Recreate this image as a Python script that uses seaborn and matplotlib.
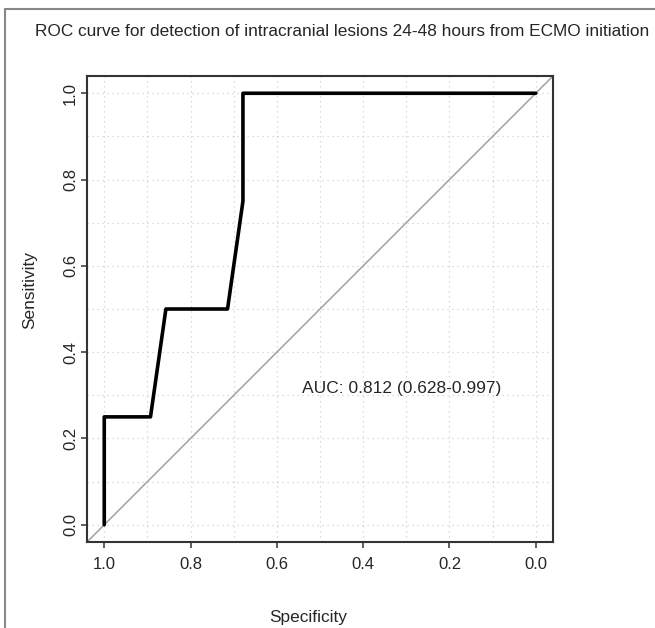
import numpy as np
import pandas as pd
import matplotlib
matplotlib.use("Agg")
import matplotlib.pyplot as plt
import seaborn as sns
from matplotlib.lines import Line2D

# ROC points (specificity, sensitivity)
specificity = [1.0, 1.0, 25/28, 24/28, 20/28, 19/28, 19/28, 0.0]
sensitivity = [0.0, 0.25, 0.25, 0.5, 0.5, 0.75, 1.0, 1.0]
tick_values = [1.0, 0.8, 0.6, 0.4, 0.2, 0.0]
grid_values = [i / 10 for i in range(11)]
auc_label = "AUC: 0.812 (0.628-0.997)"
title = "ROC curve for detection of intracranial lesions 24-48 hours from ECMO initiation"

sns.set_style("white")
plt.rcParams['font.family'] = ['Liberation Sans', 'DejaVu Sans']

roc = pd.DataFrame({'spec': specificity, 'sens': sensitivity})

fig = plt.figure(figsize=(6.55, 6.28), dpi=100)
ax = fig.add_axes([87/655, 1 - 542/628, (553-87)/655, (542-76)/628])

# dotted grid every 0.1
for g in grid_values:
    ax.axhline(g, color='#d0d0d0', lw=0.9, ls=(0, (1, 3)), zorder=0)
    ax.axvline(g, color='#d0d0d0', lw=0.9, ls=(0, (1, 3)), zorder=0)

# chance diagonal (sens = 1 - spec across the whole panel)
diag = pd.DataFrame({'spec': [1.04, -0.04], 'sens': [-0.04, 1.04]})
sns.lineplot(data=diag, x='spec', y='sens', color='#a0a0a0', lw=1.1, ax=ax,
             sort=False, estimator=None)

sns.lineplot(data=roc, x='spec', y='sens', color='black', lw=2.6, ax=ax,
             sort=False, estimator=None)

ax.set_xlim(1.04, -0.04)
ax.set_ylim(-0.04, 1.04)
ax.set_xticks(tick_values)
ax.set_yticks(tick_values)
ax.set_xticklabels([f"{v:.1f}" for v in tick_values], fontsize=12)
ax.set_yticklabels([f"{v:.1f}" for v in tick_values], fontsize=12, rotation=90, va='center')
ax.tick_params(axis='both', length=4.5, width=1.1, color='#333333', direction='out',
               bottom=True, left=True)
ax.tick_params(axis='x', pad=6.5)
ax.tick_params(axis='y', pad=2)
for s in ax.spines.values():
    s.set_color('#333333')
    s.set_linewidth(1.5)

ax.set_xlabel("Specificity", fontsize=12.4)
ax.set_ylabel("Sensitivity", fontsize=12.4)
ax.xaxis.set_label_coords(0.474, -0.146)
ax.yaxis.set_label_coords(-0.107, 0.541)

ax.text(0.542, 0.315, auc_label, fontsize=12.5, ha='left', va='center')

fig.text(0.522, 1 - 32/628, title, fontsize=12.4, ha='center', va='center')

# outer frame (top and left edges)
fig.add_artist(Line2D([5/655, 1], [1 - 9/628, 1 - 9/628], transform=fig.transFigure,
                      color='#888888', lw=1.5))
fig.add_artist(Line2D([5/655, 5/655], [0, 1 - 9/628], transform=fig.transFigure,
                      color='#888888', lw=1.5))

fig.savefig("out.png", dpi=100)
